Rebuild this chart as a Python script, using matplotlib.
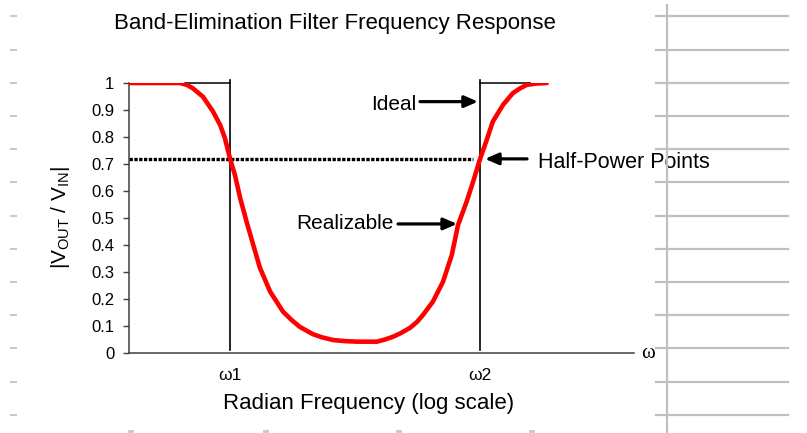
import numpy as np
import matplotlib
matplotlib.use('Agg')
import matplotlib.pyplot as plt
from matplotlib.lines import Line2D
from matplotlib.ticker import NullLocator, FixedLocator

plt.rcParams['font.family'] = ['Liberation Sans', 'DejaVu Sans']
plt.rcParams['mathtext.fontset'] = 'custom'
plt.rcParams['mathtext.rm'] = 'Liberation Sans'
plt.rcParams['mathtext.it'] = 'Liberation Sans'

# realizable response, radian frequency (rad/s) vs |Vout/Vin|
omega = [1, 2, 3.2, 3.75, 4.3, 5.4, 6.8, 8, 8.9, 10, 11.2, 12.6, 14.6, 17,
         19.8, 25, 33.5, 40.8, 49, 66, 81.5, 105, 138, 180, 285, 343, 410,
         493, 605, 710, 815, 1020, 1285, 1570, 1810, 2200, 2550, 3000, 3480,
         4000, 5050, 6300, 7430, 8650, 10700, 13700]
gain = [1.0, 1.0, 1.0, 0.993, 0.98, 0.949, 0.894, 0.844, 0.796, 0.72, 0.659,
        0.574, 0.486, 0.40, 0.315, 0.227, 0.153, 0.122, 0.097, 0.07, 0.058,
        0.048, 0.044, 0.042, 0.042, 0.05, 0.06, 0.074, 0.093, 0.115, 0.141,
        0.19, 0.264, 0.363, 0.474, 0.56, 0.634, 0.72, 0.789, 0.857, 0.919,
        0.962, 0.98, 0.993, 0.998, 1.0]

# ideal brick-wall edges
w1 = 10
w2 = 3000
ideal_left_w = [3.6, w1]
ideal_right_w = [w2, 9300]
ideal_level = [1.0, 1.0]
edge_span = [1.012, 0.01]

# half-power level line
half_w = [1, 2550]
half_level = [0.717, 0.717]

yticks = [0, 0.1, 0.2, 0.3, 0.4, 0.5, 0.6, 0.7, 0.8, 0.9, 1]
ytick_labels = ['0', '0.1', '0.2', '0.3', '0.4', '0.5', '0.6', '0.7', '0.8', '0.9', '1']

W, H = 807, 433
fig = plt.figure(figsize=(W / 100, H / 100), dpi=100)


def fx(x):
    return x / W


def fy(y):
    return 1 - y / H


# spreadsheet cell borders around the chart object
grid_gray = '#c0c0c0'
rows = 16.3 + 33.2 * np.arange(13)
fig.add_artist(Line2D([fx(667), fx(667)], [fy(5), fy(433)], color=grid_gray, lw=1.6))
for r in rows:
    fig.add_artist(Line2D([fx(656), fx(788)], [fy(r), fy(r)], color=grid_gray, lw=1.6))
    fig.add_artist(Line2D([fx(11), fx(16)], [fy(r), fy(r)], color='#c8c8c8', lw=1.4))
for c in [130, 265, 398, 531]:
    fig.add_artist(Line2D([fx(c - 1.5), fx(c + 1.5)], [fy(431), fy(431)], color='#c8c8c8', lw=2))

ax = fig.add_axes([fx(129), fy(353), fx(634) - fx(129), fy(83) - fy(353)])
ax.set_xscale('log')
ax.set_xlim(1, 1e5)
ax.set_ylim(0, 1)

ax.plot(omega, gain, color='#ff0000', lw=3.3, solid_joinstyle='round',
        solid_capstyle='round', zorder=3)

ax.plot(ideal_left_w, ideal_level, color='black', lw=1.1, clip_on=False)
ax.plot(ideal_right_w, ideal_level, color='black', lw=1.1, clip_on=False)
ax.plot([w1, w1], edge_span, color='black', lw=1.2, clip_on=False)
ax.plot([w2, w2], edge_span, color='black', lw=1.2, clip_on=False)

ax.plot(half_w, half_level, color='black', lw=2.4, linestyle=(0, (1, 0.45)), zorder=2)

arrow = dict(arrowstyle='-|>,head_length=0.8,head_width=0.35', color='black',
             lw=2.3, mutation_scale=10, shrinkA=0, shrinkB=0)
ax.annotate('', xy=(2850, 0.931), xytext=(761, 0.931), arrowprops=arrow)
ax.text(695, 0.92, 'Ideal', ha='right', va='center', fontsize=15)
ax.annotate('', xy=(1770, 0.478), xytext=(461, 0.478), arrowprops=arrow)
ax.text(421, 0.478, 'Realizable', ha='right', va='center', fontsize=15)
ax.annotate('', xy=(3350, 0.719), xytext=(8730, 0.719), arrowprops=arrow,
            annotation_clip=False)
ax.text(11200, 0.704, 'Half-Power Points', ha='left', va='center', fontsize=15.5,
        clip_on=False)

for side in ['top', 'right']:
    ax.spines[side].set_visible(False)
for side in ['left', 'bottom']:
    ax.spines[side].set_color('#404040')
    ax.spines[side].set_linewidth(1.1)

ax.yaxis.set_major_locator(FixedLocator(yticks))
ax.set_yticklabels(ytick_labels)
ax.tick_params(axis='y', direction='out', length=4.5, width=1, color='#404040',
               pad=6, labelsize=12)
ax.xaxis.set_minor_locator(NullLocator())
ax.set_xticks([w1, w2])
ax.set_xticklabels(['ω1', 'ω2'])
ax.tick_params(axis='x', length=0, pad=11, labelsize=12.5)

ax.text(1.015, 0.0, 'ω', transform=ax.transAxes, ha='left', va='center',
        fontsize=15, family='Liberation Serif')

fig.text(fx(60), fy(217), r'|V$_{\mathrm{OUT}}$ / V$_{\mathrm{IN}}$|', rotation=90,
         ha='center', va='center', fontsize=15)
fig.text(fx(369), fy(404), 'Radian Frequency (log scale)', ha='center', va='center',
         fontsize=16)
fig.text(fx(335), fy(23), 'Band-Elimination Filter Frequency Response', ha='center',
         va='center', fontsize=16)

fig.savefig('out.png', dpi=100)
